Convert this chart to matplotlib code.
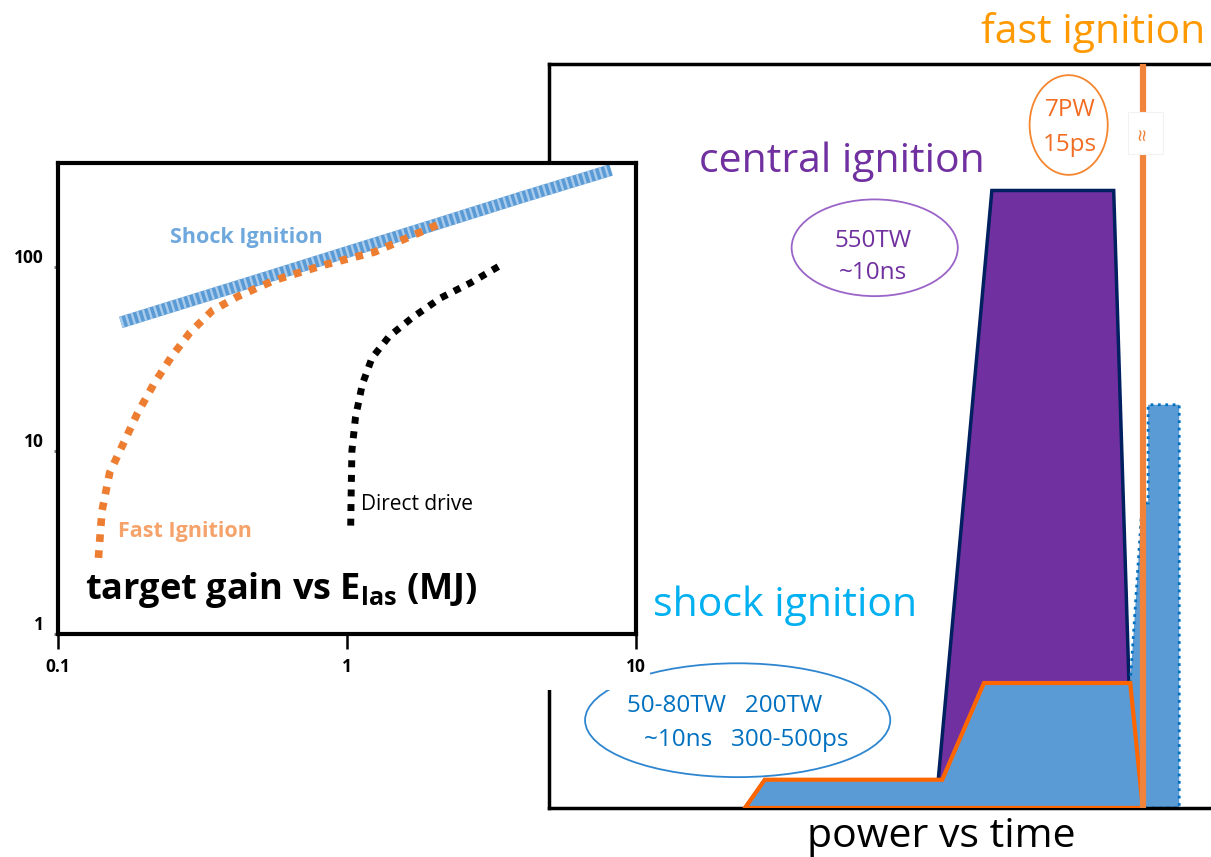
import matplotlib.pyplot as plt
from matplotlib.patches import Polygon, Ellipse, Rectangle

plt.rcParams['font.family'] = ['Open Sans', 'DejaVu Sans']
plt.rcParams['mathtext.fontset'] = 'custom'
plt.rcParams['mathtext.rm'] = 'Open Sans'
plt.rcParams['mathtext.bf'] = 'Open Sans:bold'

# target gain vs laser energy (MJ)
si_energy = [0.165, 0.3, 0.5, 1.0, 2.0, 4.0, 8.2]
si_gain = [50, 67, 86, 121, 170, 240, 339]

fi_energy = [0.138, 0.142, 0.151, 0.170, 0.188, 0.215, 0.246, 0.286, 0.342,
             0.417, 0.562, 0.836, 1.245, 2.05]
fi_gain = [2.6, 4.7, 7.6, 11.3, 15.9, 23.2, 32.2, 44, 58, 69, 85, 103, 121, 170]

dd_energy = [1.03, 1.035, 1.04, 1.07, 1.13, 1.22, 1.40, 1.68, 2.11, 2.67, 3.42]
dd_gain = [3.9, 6.6, 10, 15.2, 23, 32, 42, 53, 68, 82, 103]

gain_ticks = [1, 10, 100]
energy_ticks = [0.1, 1, 10]

# pulse shapes, power vs time (arbitrary units)
ci_time = [2.96, 3.26, 5.88, 6.69, 8.53, 8.82]
ci_power = [0, 0.038, 0.038, 0.83, 0.83, 0]

si_time = [2.96, 3.26, 5.94, 6.57, 8.78, 8.97]
si_power = [0, 0.038, 0.038, 0.168, 0.168, 0]

spike_time = [8.78, 8.96, 9.05, 9.05, 9.52, 9.52, 8.97]
spike_power = [0.168, 0.41, 0.41, 0.542, 0.542, 0, 0]

fi_time = 8.98

W, H = 1211, 857


def box(x0, y0, x1, y1):
    return [x0 / W, 1 - y1 / H, (x1 - x0) / W, (y1 - y0) / H]


fig = plt.figure(figsize=(W / 100, H / 100), dpi=100)

# ---------------- power vs time ----------------
ax2 = fig.add_axes(box(549, 64, 1211, 808), zorder=0)
ax2.set_xlim(0, 10)
ax2.set_ylim(0, 1)
ax2.set_xticks([])
ax2.set_yticks([])
for s in ['left', 'top', 'bottom']:
    ax2.spines[s].set_linewidth(2.5)
ax2.spines['right'].set_visible(False)

ax2.add_patch(Polygon(list(zip(ci_time, ci_power)), closed=True,
                      facecolor='#7030a0', edgecolor='#002060', lw=2.5, zorder=1))
ax2.add_patch(Polygon(list(zip(spike_time, spike_power)), closed=True,
                      facecolor='#5b9bd5', edgecolor='#0070c0', lw=2, ls=':', zorder=2))
ax2.add_patch(Polygon(list(zip(si_time, si_power)), closed=True,
                      facecolor='#5b9bd5', edgecolor='#ff6600', lw=3, zorder=3))
ax2.axvline(fi_time, color='#f0843c', lw=4.5, zorder=4)

# break mark on the fast ignition pulse
ax2.add_patch(Rectangle((8.74, 0.879), 0.54, 0.056, facecolor='white',
                        edgecolor='#f2f2f2', lw=0.8, zorder=5))
ax2.text(fi_time, 0.907, '≈', rotation=90, color='#f0843c', fontsize=16,
         ha='center', va='center', zorder=6)

big = 29.5
small = 17.5

ax2.text(4.43, 0.855, 'central ignition', color='#7030a0', fontsize=big,
         ha='center', va='baseline')
ax2.add_patch(Ellipse((4.92, 0.753), 2.51, 0.130, fill=False,
                      edgecolor='#9b64c8', lw=1.3))
ax2.text(4.89, 0.754, '550TW', color='#7030a0', fontsize=small,
         ha='center', va='baseline')
ax2.text(4.89, 0.711, '~10ns', color='#7030a0', fontsize=small,
         ha='center', va='baseline')

ax2.text(3.57, 0.258, 'shock ignition', color='#00b0f0', fontsize=big,
         ha='center', va='baseline')
ax2.add_patch(Ellipse((2.85, 0.118), 4.61, 0.153, fill=False,
                      edgecolor='#2e86d0', lw=1.3))
ax2.text(1.18, 0.129, '50-80TW   200TW', color='#0070c0', fontsize=small,
         ha='left', va='baseline')
ax2.text(1.435, 0.083, '~10ns   300-500ps', color='#0070c0', fontsize=small,
         ha='left', va='baseline')

ax2.add_patch(Ellipse((7.85, 0.918), 1.18, 0.134, fill=False,
                      edgecolor='#f4862f', lw=1.3))
ax2.text(7.87, 0.930, '7PW', color='#f26c22', fontsize=small,
         ha='center', va='baseline')
ax2.text(7.87, 0.883, '15ps', color='#f26c22', fontsize=small,
         ha='center', va='baseline')

fig.text(1093.5 / W, 1 - 43 / H, 'fast ignition', color='#ff9900',
         fontsize=big, ha='center', va='baseline')
fig.text(941.5 / W, 1 - 847 / H, 'power vs time', color='black',
         fontsize=big, ha='center', va='baseline')

# white backing for the gain plot, it sits on top of the pulse plot
fig.add_artist(Rectangle((0, 1 - 690 / H), 650 / W, (690 - 162) / H,
                         transform=fig.transFigure, facecolor='white',
                         edgecolor='none', zorder=1))

# ---------------- target gain ----------------
ax1 = fig.add_axes(box(58, 163, 636, 634), zorder=2)
ax1.set_xscale('log')
ax1.set_yscale('log')
ax1.set_xlim(0.1, 10)
ax1.set_ylim(1, 370)

ax1.plot(si_energy, si_gain, color='#5b9bd5', lw=8.5, solid_capstyle='butt')
ax1.plot(si_energy, si_gain, color='#a9cbec', lw=8.5, ls=(0, (0.2, 0.3)))
ax1.plot(fi_energy, fi_gain, color='#ed7d31', lw=5.5, ls=(0, (1, 1.1)))
ax1.plot(dd_energy, dd_gain, color='black', lw=5, ls=(0, (1, 1.1)))

ax1.set_xticks(energy_ticks, [str(v) for v in energy_ticks])
ax1.set_yticks(gain_ticks, [str(v) for v in gain_ticks])
ax1.minorticks_off()
ax1.tick_params(axis='x', length=11, width=1.8, direction='out', pad=6,
                labelsize=12.5)
ax1.tick_params(axis='y', length=3, width=2, color='#777777', pad=7,
                labelsize=12.5)
for lbl in ax1.get_xticklabels() + ax1.get_yticklabels():
    lbl.set_fontweight('bold')
for lbl in ax1.get_yticklabels():
    lbl.set_verticalalignment('bottom')
for s in ax1.spines.values():
    s.set_linewidth(3)

ax1.text(0.45, 146, 'Shock Ignition', color='#6fa8dc', fontsize=15.5,
         fontweight='bold', ha='center', va='center')
ax1.text(0.274, 3.6, 'Fast Ignition', color='#f5a36b', fontsize=15.5,
         fontweight='bold', ha='center', va='center')
ax1.text(1.12, 5.07, 'Direct drive', color='black', fontsize=15,
         ha='left', va='center')
ax1.text(0.124, 1.74, r'target gain vs E$_\mathbf{las}$ (MJ)', color='black',
         fontsize=26, fontweight='bold', ha='left', va='center')

fig.savefig('out.png', dpi=100)
